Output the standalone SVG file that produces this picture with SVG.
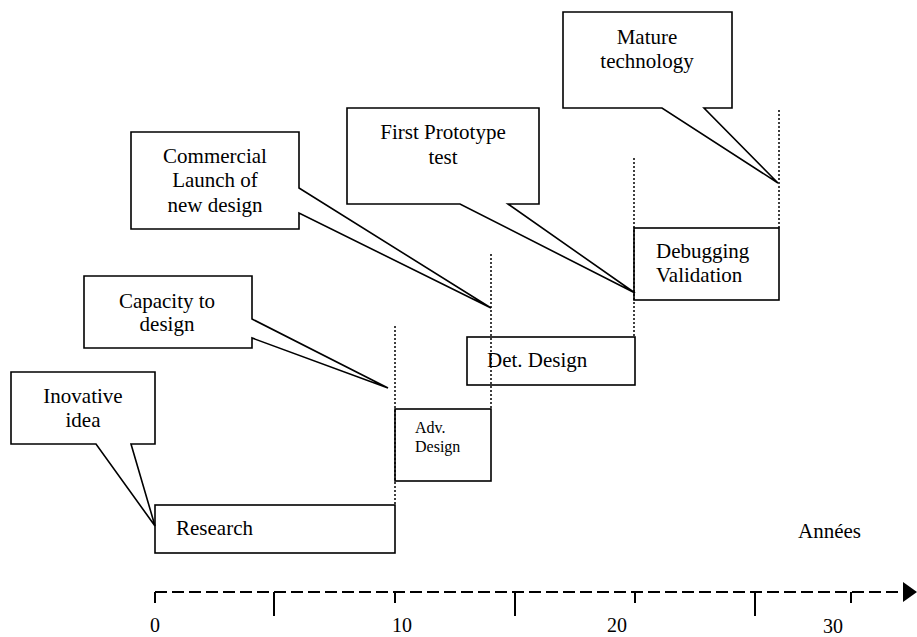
<svg xmlns="http://www.w3.org/2000/svg" width="917" height="637" viewBox="0 0 917 637">
<style>
text{font-family:"Liberation Serif","Times New Roman",serif;font-size:21px;fill:#000}
.c{text-anchor:middle}
.box{fill:none;stroke:#000;stroke-width:1.6}
.call{fill:#fff;stroke:#000;stroke-width:1.6;stroke-linejoin:miter}
.dot{stroke:#000;stroke-width:1.5;stroke-dasharray:2 2;fill:none}
.axis{stroke:#000;stroke-width:2;fill:none}
</style>
<rect width="917" height="637" fill="#fff"/>
<g id="callouts">
<g id="inovative"><path class="call" d="M11,372 H155 V444 H131 L155,526 L96,444 H11 Z"/><text class="c" x="83" y="403">Inovative</text><text class="c" x="83" y="427">idea</text></g>
<g id="capacity"><path class="call" d="M84,276 H252 V319 L388,388 L252,338 V348 H84 Z"/><text class="c" x="167" y="308">Capacity to</text><text class="c" x="167" y="331">design</text></g>
<g id="commercial"><path class="call" d="M131,132 H299 V188 L491,308 L299,213 V229 H131 Z"/><text class="c" x="215" y="163">Commercial</text><text class="c" x="215" y="187">Launch of</text><text class="c" x="215" y="212">new design</text></g>
<g id="prototype"><path class="call" d="M347,108 H539 V204 H508 L635,293 L460,204 H347 Z"/><text class="c" x="443" y="139">First Prototype</text><text class="c" x="443" y="164">test</text></g>
<g id="mature"><path class="call" d="M563,12 H732 V108 H704 L778,183 L662,108 H563 Z"/><text class="c" x="647" y="44">Mature</text><text class="c" x="647" y="68">technology</text></g>
</g>
<g id="research"><rect class="box" x="155" y="505" width="240" height="48"/><text x="176" y="535">Research</text></g>
<g id="adv"><rect class="box" x="395" y="409" width="96" height="72"/><text x="415" y="433" style="font-size:16px">Adv.</text><text x="415" y="452" style="font-size:16px">Design</text></g>
<g id="det"><rect class="box" x="467" y="337" width="168" height="48"/><text x="487" y="367">Det. Design</text></g>
<g id="debug"><rect class="box" x="634" y="228" width="145" height="72"/><text x="656" y="258">Debugging</text><text x="656" y="282">Validation</text></g>
<g id="connectors">
<line class="dot" x1="395" y1="326" x2="395" y2="505"/>
<line class="dot" x1="491" y1="254" x2="491" y2="409"/>
<line class="dot" x1="634" y1="158" x2="634" y2="337"/>
<line class="dot" x1="779" y1="110" x2="779" y2="228"/>
</g>
<g id="axis">
<line class="axis" x1="155" y1="592" x2="903" y2="592" stroke-dasharray="12 5"/>
<polygon points="903,582 917,592 903,602" fill="#000"/>
<path class="axis" d="M155,592 V603 M395,592 V603 M635,592 V603 M851,592 V603 M274,592 V616 M515,592 V616 M755,592 V616"/>
<text class="c" x="155" y="632" style="font-size:20px">0</text>
<text class="c" x="402" y="632" style="font-size:20px">10</text>
<text class="c" x="617" y="632" style="font-size:20px">20</text>
<text class="c" x="833" y="633" style="font-size:20px">30</text>
<text x="798" y="538">Années</text>
</g>
</svg>
